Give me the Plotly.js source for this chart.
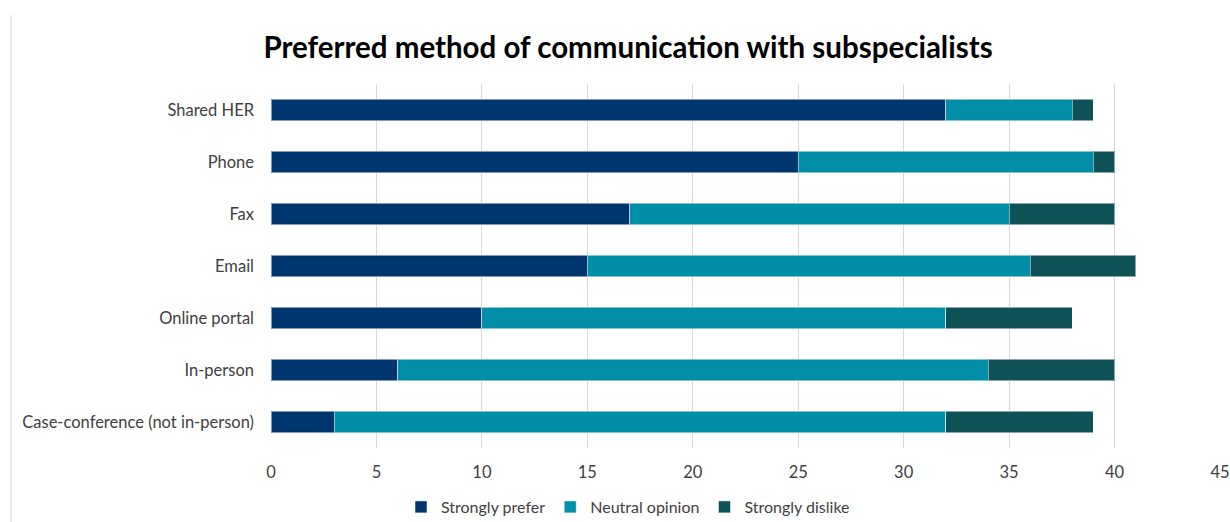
<!DOCTYPE html>
<html>
<head>
<meta charset="utf-8">
<script src="https://cdn.plot.ly/plotly-3.0.1.min.js"></script>
<style>html,body{margin:0;padding:0;background:#fff;}#chart{width:1230px;height:522px;}</style>
</head>
<body>
<div id="chart"></div>
<script>
const categories = ["Shared HER", "Phone", "Fax", "Email", "Online portal", "In-person", "Case-conference (not in-person)"];
const stronglyPrefer = [32, 25, 17, 15, 10, 6, 3];
const neutralOpinion = [6, 14, 18, 21, 22, 28, 29];
const stronglyDislike = [1, 1, 5, 5, 6, 6, 7];
const seriesNames = ["Strongly prefer", "Neutral opinion", "Strongly dislike"];
const xTicks = [0, 5, 10, 15, 20, 25, 30, 35, 40, 45];

const colors = ["#00366f", "#008ea9", "#0e5157"];
const seriesValues = [stronglyPrefer, neutralOpinion, stronglyDislike];
const font = "Lato, 'Open Sans', sans-serif";

const traces = seriesValues.map((vals, i) => ({
  type: "bar",
  orientation: "h",
  name: seriesNames[i],
  y: categories,
  x: vals,
  marker: {color: colors[i], line: {color: "rgba(255,255,255,0.5)", width: 1}},
  hoverinfo: "x+y+name"
}));

const layout = {
  width: 1230, height: 522,
  margin: {l: 271, r: 10, t: 84, b: 74},
  paper_bgcolor: "#fff", plot_bgcolor: "#fff",
  barmode: "stack",
  bargap: 0.58,
  font: {family: font, size: 16.5, color: "#404040"},
  title: {text: "<b>Preferred method of communication with subspecialists</b>",
    font: {family: font, size: 29.5, color: "#000"},
    xref: "container", x: 628/1230, xanchor: "center",
    yref: "container", y: 1 - 48/522, yanchor: "middle"},
  xaxis: {range: [0, 45], tickvals: xTicks, ticktext: xTicks.map(String),
    showgrid: true, gridcolor: "#d9d9d9", gridwidth: 1, zeroline: false,
    showline: false, ticks: "", ticklabelstandoff: 12, fixedrange: true},
  yaxis: {type: "category", autorange: "reversed", showgrid: false, zeroline: false,
    showline: false, ticks: "", ticklabelstandoff: 16, fixedrange: true},
  legend: {orientation: "h", xref: "container", x: 628/1230, xanchor: "center",
    yref: "container", y: 1 - 507/522, yanchor: "middle",
    font: {family: font, size: 16, color: "#404040"}, traceorder: "normal",
    itemwidth: 30},
  shapes: [{type: "line", xref: "paper", yref: "paper",
    x0: (11 - 271) / 949, x1: (11 - 271) / 949, y0: -74/364, y1: (448 - 15) / 364,
    line: {color: "#d9d9d9", width: 1}}]
};

Plotly.newPlot("chart", traces, layout, {displayModeBar: false, staticPlot: true});
</script>
</body>
</html>
